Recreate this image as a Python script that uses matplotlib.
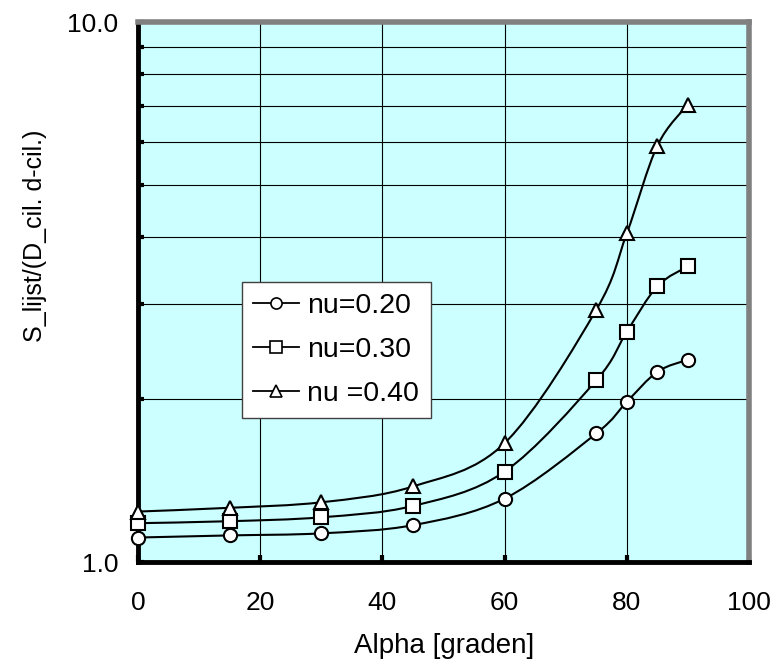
import numpy as np
import matplotlib
matplotlib.use("Agg")
import matplotlib.pyplot as plt
from matplotlib.path import Path
from matplotlib.patches import PathPatch
from matplotlib.lines import Line2D
from matplotlib.ticker import FixedLocator, FormatStrFormatter, NullFormatter

# ---- data ----
alpha = [0, 15, 30, 45, 60, 75, 80, 85, 90]
nu_020 = [1.11, 1.12, 1.13, 1.17, 1.31, 1.73, 1.98, 2.25, 2.37]
nu_030 = [1.18, 1.19, 1.21, 1.27, 1.47, 2.17, 2.67, 3.24, 3.53]
nu_040 = [1.24, 1.26, 1.29, 1.38, 1.66, 2.93, 4.06, 5.90, 7.03]
labels = ["nu=0.20", "nu=0.30", "nu =0.40"]
markers = ["o", "s", "^"]
x_ticks = [0, 20, 40, 60, 80, 100]
xlabel = "Alpha [graden]"
ylabel = "S_lijst/(D_cil. d-cil.)"

plt.rcParams['font.family'] = ['Liberation Sans', 'DejaVu Sans']

fig = plt.figure(figsize=(7.78, 6.72), dpi=100)
W, H = 778, 672
ax = fig.add_axes([138 / W, (H - 562) / H, 611 / W, 540 / H])
ax.set_facecolor('#CCFFFF')
ax.set_yscale('log')
ax.set_xlim(0, 100)
ax.set_ylim(1, 10)


def smooth_path(xs, ys):
    """Excel-like smoothed line: cubic Bezier segments with Catmull-Rom
    control points computed in (x, log y) space; the log transform of the
    axes maps the control points so the curve is drawn in display space."""
    P = np.column_stack([np.asarray(xs, float), np.log10(np.asarray(ys, float))])
    n = len(P)
    verts = [P[0]]
    codes = [Path.MOVETO]
    for i in range(n - 1):
        p0 = P[i - 1] if i > 0 else P[i]
        p3 = P[i + 2] if i + 2 < n else P[i + 1]
        c1 = P[i] + (P[i + 1] - p0) / 6.0
        c2 = P[i + 1] - (p3 - P[i]) / 6.0
        verts += [c1, c2, P[i + 1]]
        codes += [Path.CURVE4] * 3
    V = np.array(verts)
    V[:, 1] = 10 ** V[:, 1]
    return Path(V, codes)


series = [nu_020, nu_030, nu_040]
handles = []
for ys, mk, lab in zip(series, markers, labels):
    patch = PathPatch(smooth_path(alpha, ys), facecolor='none',
                      edgecolor='black', lw=1.5, zorder=3)
    ax.add_patch(patch)
    ax.plot(alpha, ys, linestyle='none', marker=mk, markersize=9.5,
            markerfacecolor='white', markeredgecolor='black',
            markeredgewidth=1.5, zorder=6, clip_on=False)
    handles.append(Line2D([], [], color='black', lw=1.3, marker=mk,
                          markersize=8, markerfacecolor='white',
                          markeredgecolor='black', markeredgewidth=1.2))

# grid
ax.xaxis.set_major_locator(FixedLocator(x_ticks))
ax.yaxis.set_major_locator(FixedLocator([1, 10]))
ax.yaxis.set_minor_locator(FixedLocator([2, 3, 4, 5, 6, 7, 8, 9]))
ax.yaxis.set_major_formatter(FormatStrFormatter('%.1f'))
ax.yaxis.set_minor_formatter(NullFormatter())
ax.grid(True, which='major', axis='x', color='black', lw=0.8, zorder=1)
ax.grid(True, which='minor', axis='y', color='black', lw=0.8, zorder=1)
ax.set_axisbelow(True)

ax.tick_params(axis='x', which='major', direction='in', length=5, width=3,
               labelsize=19, pad=21, colors='black')
ax.tick_params(axis='y', which='both', direction='in', length=4, width=3,
               labelsize=19, pad=14, colors='black')

for side in ['left', 'bottom']:
    ax.spines[side].set_color('black')
    ax.spines[side].set_linewidth(3.5)
for side in ['top', 'right']:
    ax.spines[side].set_color('#808080')
    ax.spines[side].set_linewidth(4)

fig.text(444 / W, 1 - 646 / H, xlabel, fontsize=20, ha='center', va='center')
fig.text(35 / W, 1 - 236 / H, ylabel, fontsize=18, rotation=90,
         ha='center', va='center')

leg = ax.legend(handles, labels, loc='upper left',
                bbox_to_anchor=((242 - 138) / 611, (562 - 282) / 540),
                borderaxespad=0, fontsize=20.5, frameon=True, fancybox=False,
                edgecolor='#404040', facecolor='white', framealpha=1,
                handlelength=1.6, handletextpad=0.3, labelspacing=0.62,
                borderpad=0.4)
leg.get_frame().set_linewidth(1.0)
leg.set_zorder(10)

fig.savefig('out.png', dpi=100)
